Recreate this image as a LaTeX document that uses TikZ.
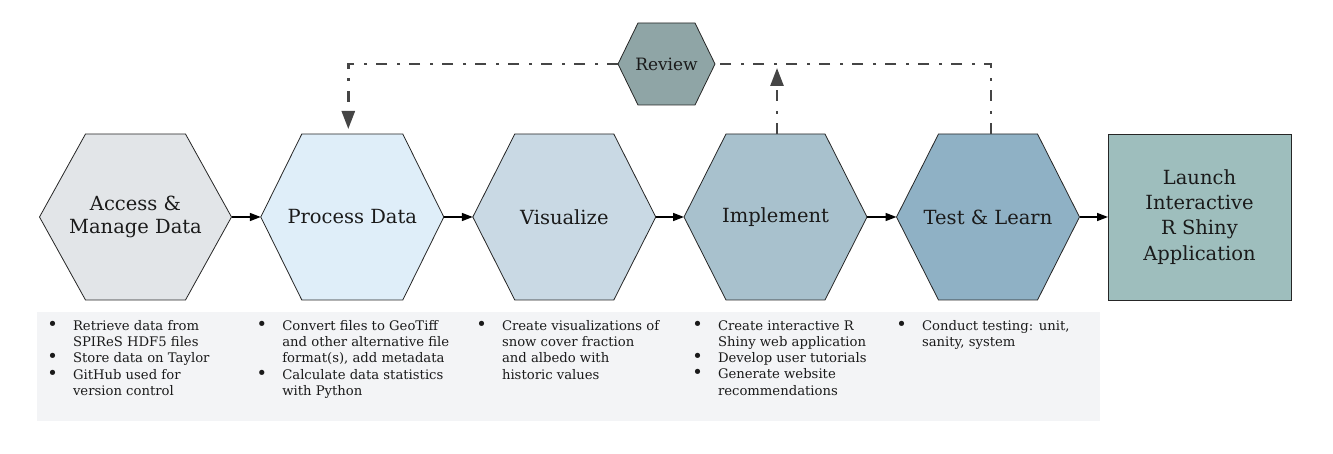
\documentclass[tikz,border=0pt]{standalone}
\usepackage{fontspec}
\usepackage{graphicx}
\setmainfont{DejaVu Serif}
\usetikzlibrary{arrows.meta,backgrounds,calc}
\definecolor{cAccess}{HTML}{E2E5E8}
\definecolor{cProcess}{HTML}{DFEEF9}
\definecolor{cVisual}{HTML}{C9D9E4}
\definecolor{cImpl}{HTML}{A8C1CD}
\definecolor{cTest}{HTML}{8FB1C5}
\definecolor{cLaunch}{HTML}{9EBEBD}
\definecolor{cReview}{HTML}{8FA5A6}
\definecolor{cBox}{HTML}{F3F4F6}
\definecolor{cDash}{HTML}{454545}
\definecolor{txt}{HTML}{1A1A1A}
\newcommand\mkhex[3]{\filldraw[fill=#3, draw=black!85, line width=0.8pt, line join=miter] (#1.west) -- ([xshift=#2]#1.north west) -- ([xshift=-#2]#1.north east) -- (#1.east) -- ([xshift=-#2]#1.south east) -- ([xshift=#2]#1.south west) -- cycle;}
\newcommand\bitem{\makebox[0pt]{\scalebox{1.35}{\textbullet}}\hspace*{20.3pt}}
\newcommand\bcont{\hspace*{20.3pt}}
\tikzset{
  hexn/.style={inner sep=0pt, outer sep=0pt, minimum height=166pt, minimum width=183pt, align=center, text=txt, font=\fontsize{19.5}{23.3}\selectfont},
  bul/.style={inner sep=0pt, outer sep=0pt, align=left, anchor=north west, text=txt, font=\fontsize{13.2}{16.2}\selectfont},
  mainarrow/.style={draw=black, line width=1.5pt, -{Triangle[length=11pt,width=8pt]}},
  dashline/.style={draw=cDash, line width=2.6pt, dash pattern=on 11pt off 9pt on 3pt off 10pt},
  dasharrow/.style={dashline, -{Triangle[length=18pt,width=13pt]}}
}
\begin{document}
\begin{tikzpicture}[x=1pt,y=-1pt]
\useasboundingbox (0,0) rectangle (1333,454);
% main row
\node[hexn, minimum width=192pt] (access) at (135.5,217) {Access \&\\Manage Data};
\node[hexn] (process) at (352.3,217) {Process Data};
\node[hexn] (visual) at (564.3,217) {Visualize};
\node[hexn] (impl) at (775.5,217) {Implement};
\node[hexn] (test) at (988,217) {Test \& Learn};
\node[draw=black!85, line width=0.8pt, fill=cLaunch, minimum width=183pt, minimum height=166pt, inner sep=0pt, outer sep=0pt, align=center, text=txt, font=\fontsize{19.5}{25.2}\selectfont] (launch) at (1199.5,217) {Launch\\Interactive\\R Shiny\\Application};
\node[hexn, minimum width=97pt, minimum height=82pt, font=\fontsize{17}{20}\selectfont] (review) at (666.5,64) {Review};
% bullet lists
\node[bul] (l1) at (52.7,320.5) {\bitem Retrieve data from\\\bcont SPIReS HDF5 files\\\bitem Store data on Taylor\\\bitem GitHub used for\\\bcont version control};
\node[bul] (l2) at (262,320.5) {\bitem Convert files to GeoTiff\\\bcont and other alternative file\\\bcont format(s), add metadata\\\bitem Calculate data statistics\\\bcont with Python};
\node[bul] (l3) at (481.7,320.5) {\bitem Create visualizations of\\\bcont snow cover fraction\\\bcont and albedo with\\\bcont historic values};
\node[bul] (l4) at (697.7,320.5) {\bitem Create interactive R\\\bcont Shiny web application\\\bitem Develop user tutorials\\\bitem Generate website\\\bcont recommendations};
\node[bul] (l5) at (901.7,320.5) {\bitem Conduct testing: unit,\\\bcont sanity, system};
\begin{scope}[on background layer]
\node[fill=cBox, inner sep=0pt, outer sep=0pt, minimum width=1063pt, minimum height=109pt, anchor=north west] (listbg) at (37,312) {};
\mkhex{access}{46pt}{cAccess}
\mkhex{process}{41pt}{cProcess}
\mkhex{visual}{42pt}{cVisual}
\mkhex{impl}{42pt}{cImpl}
\mkhex{test}{42pt}{cTest}
\mkhex{review}{20pt}{cReview}
\end{scope}
% connectors
\draw[mainarrow] (access.east) -- (process.west);
\draw[mainarrow] (process.east) -- (visual.west);
\draw[mainarrow] (visual.east) -- (impl.west);
\draw[mainarrow] (impl.east) -- (test.west);
\draw[mainarrow] (test.east) -- (launch.west);
\draw[dashline] ([xshift=3pt]test.north) |- (review.east);
\draw[dasharrow, shorten >=5pt] (review.west) -| ([xshift=-4pt]process.north);
\draw[dasharrow, shorten >=4pt] ([xshift=1.5pt]impl.north) -- ([xshift=1.5pt]impl.north |- review.east);
\end{tikzpicture}
\end{document}
